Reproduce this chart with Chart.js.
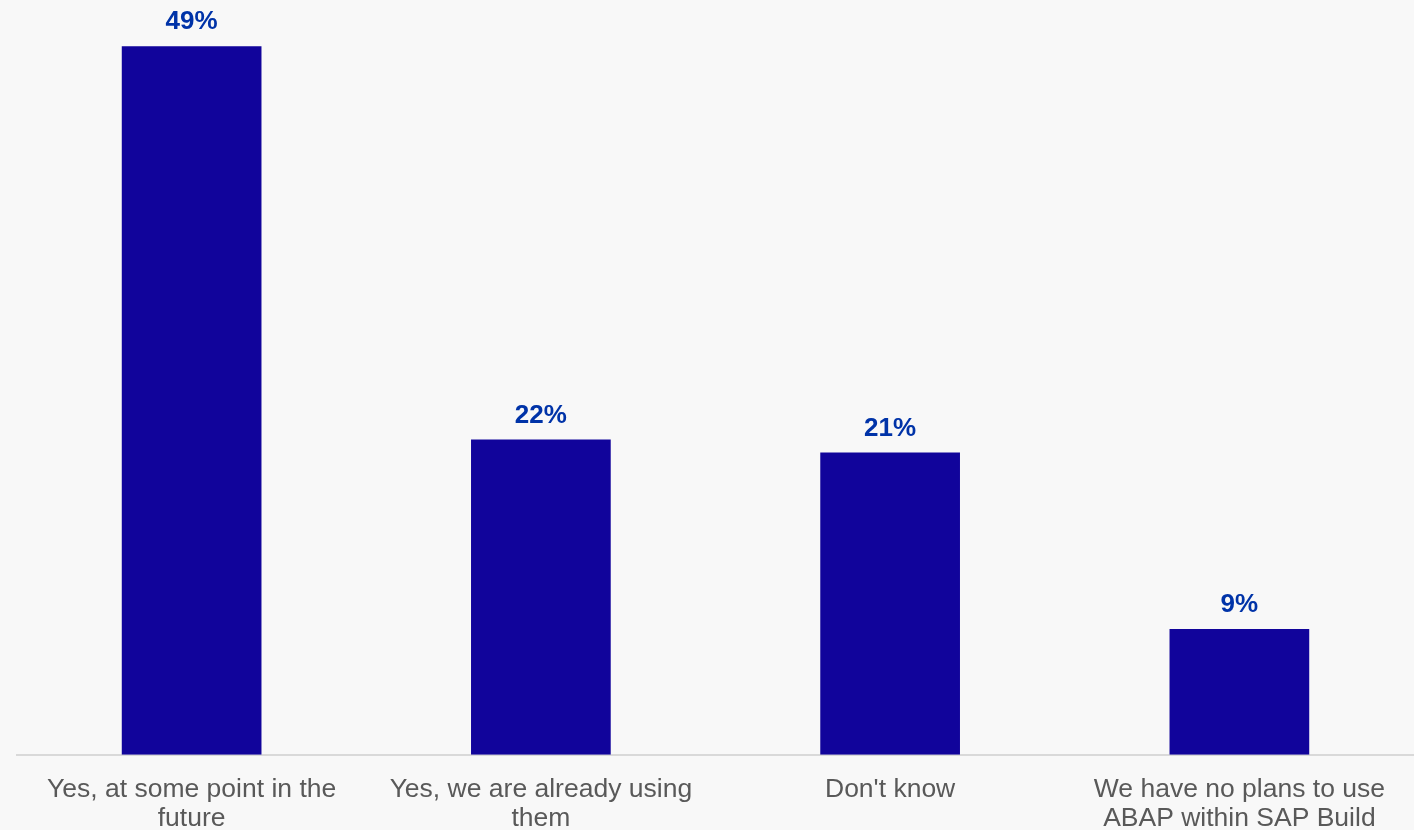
<!DOCTYPE html>
<html>
<head>
<meta charset="utf-8">
<script src="https://cdn.jsdelivr.net/npm/chart.js@4/dist/chart.umd.min.js"></script>
<style>
  html, body { margin: 0; padding: 0; background: #f8f8f8; }
  #wrap { width: 1414px; height: 830px; }
</style>
</head>
<body>
<div id="wrap"><canvas id="surveyChart"></canvas></div>
<script>
var categories = [
  ["Yes, at some point in the", "future"],
  ["Yes, we are already using", "them"],
  ["Don't know"],
  ["We have no plans to use", "ABAP within SAP Build"]
];
var shares = [49, 21.8, 20.9, 8.7];

// draws the percent over each bar
var barLabels = {
  id: "barLabels",
  afterDatasetsDraw: function (chart) {
    var ctx = chart.ctx;
    var meta = chart.getDatasetMeta(0);
    ctx.save();
    ctx.fillStyle = "#0033a8";
    ctx.font = "bold 26px 'Liberation Sans', Arial, sans-serif";
    ctx.textAlign = "center";
    ctx.textBaseline = "middle";
    meta.data.forEach(function (bar, i) {
      ctx.fillText(Math.round(shares[i]) + "%", bar.x, bar.y - 24);
    });
    ctx.restore();
  }
};

var surveyChart = new Chart(document.getElementById("surveyChart").getContext("2d"), {
  type: "bar",
  data: {
    labels: categories,
    datasets: [
      {
        label: "Share",
        data: shares,
        backgroundColor: "#11049b",
        borderWidth: 0,
        categoryPercentage: 1,
        barPercentage: 0.4
      }
    ]
  },
  options: {
    responsive: true,
    maintainAspectRatio: false,
    animation: false,
    layout: {
      padding: { left: 17, right: 0, top: 0, bottom: -15 }
    },
    plugins: {
      legend: { display: false },
      tooltip: { enabled: false }
    },
    scales: {
      x: {
        grid: { display: false },
        border: { display: true, color: "#d9d9d9", width: 2 },
        ticks: {
          color: "#595959",
          font: { family: "'Liberation Sans', Arial, sans-serif", size: 26.5, lineHeight: 1.1 },
          maxRotation: 0,
          autoSkip: false,
          padding: 12
        }
      },
      y: {
        display: false,
        min: 0,
        max: 52.2
      }
    }
  },
  plugins: [barLabels]
});
</script>
</body>
</html>
